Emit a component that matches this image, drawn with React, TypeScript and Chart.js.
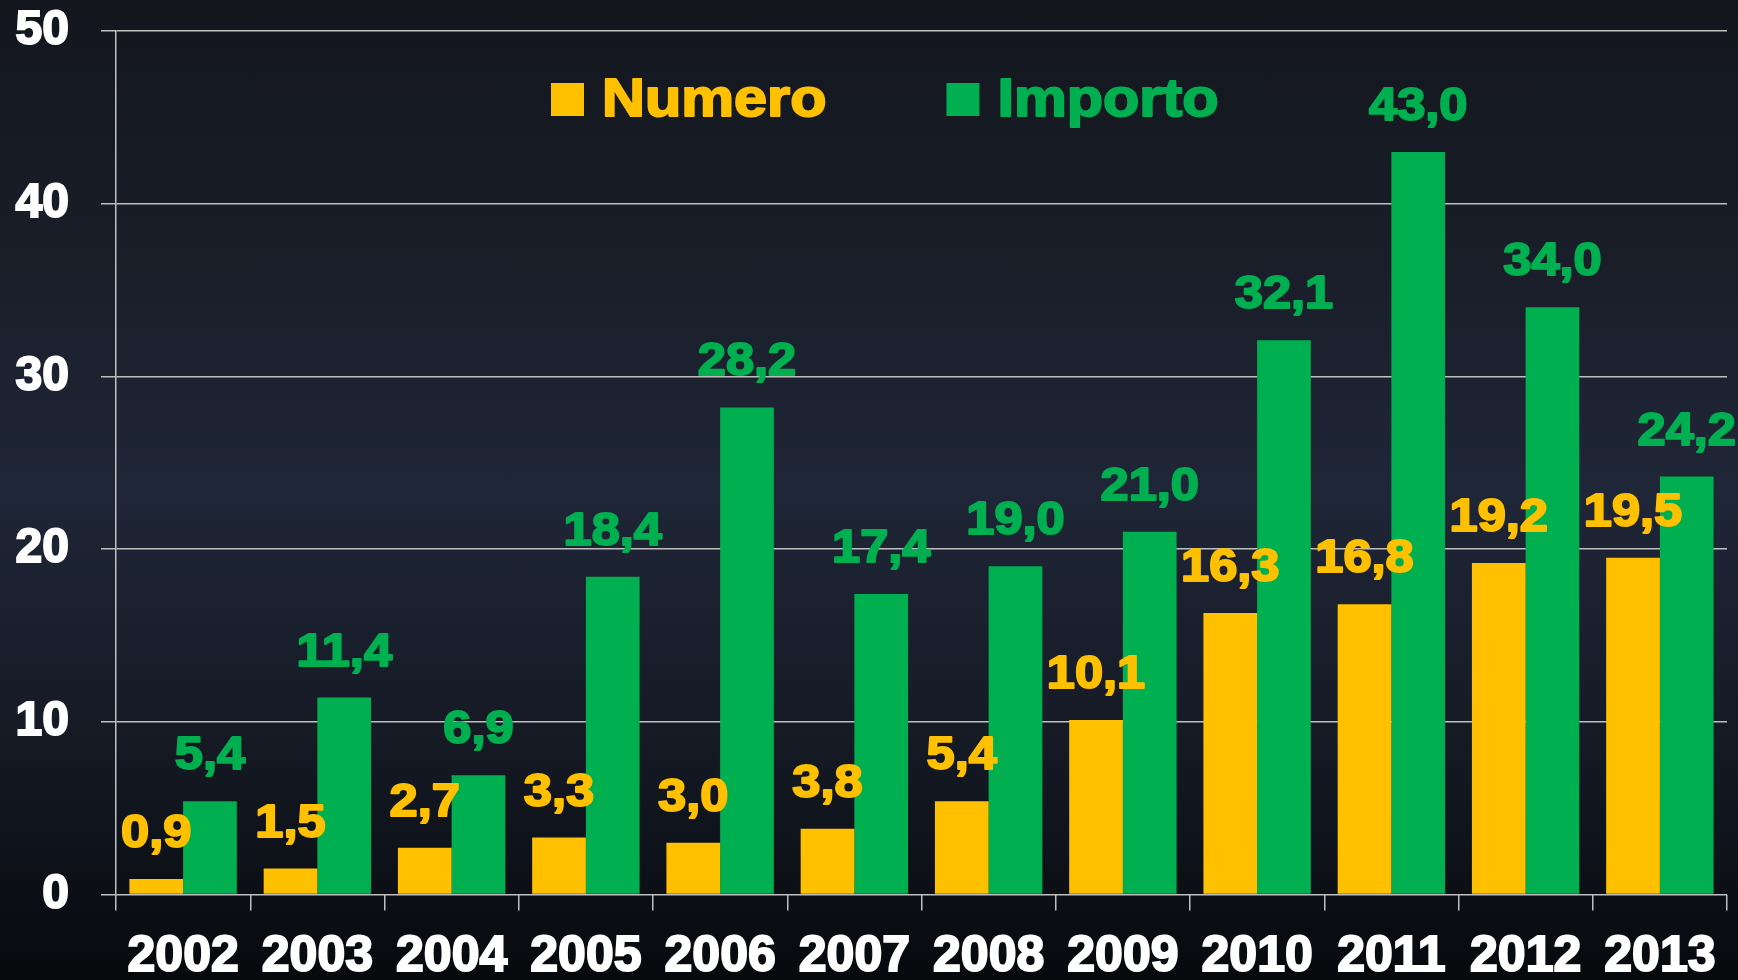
import React, { useEffect, useRef } from "react";
import { Chart, registerables } from "chart.js";

Chart.register(...registerables);

const years = ["2002", "2003", "2004", "2005", "2006", "2007", "2008", "2009", "2010", "2011", "2012", "2013"];
const numero = [0.9, 1.5, 2.7, 3.3, 3.0, 3.8, 5.4, 10.1, 16.3, 16.8, 19.2, 19.5];
const importo = [5.4, 11.4, 6.9, 18.4, 28.2, 17.4, 19.0, 21.0, 32.1, 43.0, 34.0, 24.2];
const seriesNames = ["Numero", "Importo"];
const seriesColors = ["#FFC000", "#00B050"];
const yTicks = [0, 10, 20, 30, 40, 50];

const FONT = "'Liberation Sans', Arial, sans-serif";
const STRETCH = 1.1;

function stretchedText(ctx: CanvasRenderingContext2D, text: string, x: number, y: number, align: "left" | "center") {
  ctx.save();
  ctx.translate(x, y);
  ctx.scale(STRETCH, 1);
  ctx.textAlign = align;
  ctx.lineJoin = "round";
  ctx.strokeText(text, 0, 0);
  ctx.fillText(text, 0, 0);
  ctx.restore();
}

const dataLabelPlugin = {
  id: "dataLabels",
  afterDatasetsDraw(chart: any) {
    const ctx = chart.ctx as CanvasRenderingContext2D;
    ctx.save();
    ctx.font = `bold 46px ${FONT}`;
    ctx.textBaseline = "alphabetic";
    ctx.lineWidth = 2;
    chart.data.datasets.forEach((ds: any, di: number) => {
      const meta = chart.getDatasetMeta(di);
      ctx.fillStyle = ds.backgroundColor;
      ctx.strokeStyle = ds.backgroundColor;
      meta.data.forEach((bar: any, i: number) => {
        const v = ds.data[i] as number;
        const txt = v.toFixed(1).replace(".", ",");
        stretchedText(ctx, txt, bar.x, bar.y - 32, "center");
      });
    });
    ctx.restore();
  },
};

const legendPlugin = {
  id: "customLegend",
  afterDraw(chart: any) {
    const ctx = chart.ctx as CanvasRenderingContext2D;
    const area = chart.chartArea;
    ctx.save();
    ctx.font = `bold 54px ${FONT}`;
    ctx.textBaseline = "alphabetic";
    ctx.lineWidth = 2;
    let x = area.left + 435;
    const baseY = 116;
    chart.data.datasets.forEach((ds: any) => {
      ctx.fillStyle = ds.backgroundColor;
      ctx.strokeStyle = ds.backgroundColor;
      ctx.fillRect(x, baseY - 33, 33, 33);
      stretchedText(ctx, ds.label, x + 51, baseY, "left");
      const w = ctx.measureText(ds.label).width * STRETCH;
      x += 51 + w + 120;
    });
    ctx.restore();
  },
};

export default function App() {
  const ref = useRef<HTMLCanvasElement | null>(null);

  useEffect(() => {
    document.body.style.margin = "0";
    const canvas = ref.current!;
    const gray = "#BFBFBF";
    const chart = new Chart(canvas, {
      type: "bar",
      data: {
        labels: years,
        datasets: [
          { label: seriesNames[0], data: numero, backgroundColor: seriesColors[0], borderWidth: 0 },
          { label: seriesNames[1], data: importo, backgroundColor: seriesColors[1], borderWidth: 0 },
        ],
      },
      options: {
        animation: false,
        responsive: false,
        maintainAspectRatio: false,
        layout: { padding: { top: 31, right: 11, left: 0, bottom: 0 } },
        datasets: { bar: { categoryPercentage: 0.8, barPercentage: 1.0 } },
        plugins: {
          legend: { display: false },
          tooltip: { enabled: false },
        },
        scales: {
          x: {
            offset: true,
            grid: {
              offset: true,
              drawOnChartArea: true,
              color: (c: any) => (c.index === years.length ? gray : "rgba(0,0,0,0)"),
              tickColor: gray,
              tickLength: 16,
              lineWidth: 1.5,
            },
            border: { display: false },
            ticks: {
              color: "#FFFFFF",
              font: { family: FONT, size: 50, weight: "bold" },
              textStrokeColor: "#FFFFFF",
              textStrokeWidth: 2,
              padding: 17,
              maxRotation: 0,
              autoSkip: false,
            },
            afterFit: (s: any) => {
              s.height = 85.5;
              s.paddingLeft = 0;
              s.paddingRight = 0;
            },
          },
          y: {
            min: 0,
            max: 50,
            afterBuildTicks: (s: any) => {
              s.ticks = yTicks.map((v) => ({ value: v }));
            },
            grid: {
              color: gray,
              tickColor: gray,
              tickLength: 15,
              lineWidth: 1.5,
            },
            border: { display: true, color: gray, width: 1.5 },
            ticks: {
              color: "#FFFFFF",
              font: { family: FONT, size: 48, weight: "bold" },
              textStrokeColor: "#FFFFFF",
              textStrokeWidth: 2,
              padding: 32,
            },
            afterFit: (s: any) => {
              s.width = 116;
              s.paddingTop = 0;
              s.paddingBottom = 0;
            },
          },
        },
      },
      plugins: [dataLabelPlugin, legendPlugin],
    } as any);
    return () => chart.destroy();
  }, []);

  return (
    <div
      style={{
        position: "fixed",
        left: 0,
        top: 0,
        width: 1738,
        height: 980,
        background: "linear-gradient(to bottom, #13161d 0%, #1a1f2b 30%, #1f2637 50%, #151a25 75%, #07090d 100%)",
      }}
    >
      <canvas ref={ref} width={1738} height={980} style={{ display: "block" }} />
    </div>
  );
}
